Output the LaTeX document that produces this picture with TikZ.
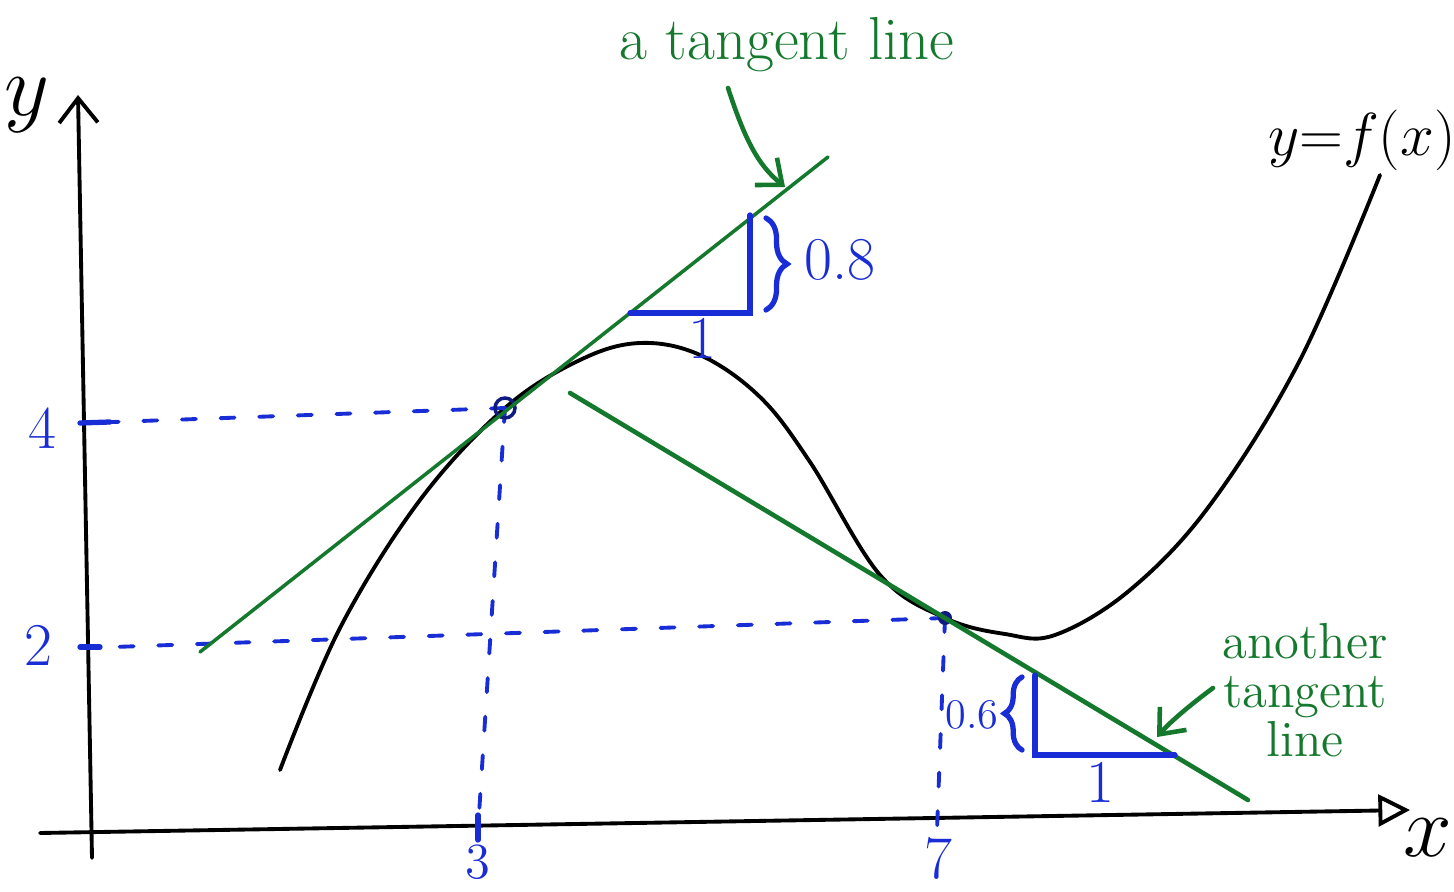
\documentclass[tikz,border=0pt]{standalone}
\usetikzlibrary{positioning,arrows.meta,decorations.pathreplacing}
\definecolor{penblue}{RGB}{25,45,215}
\definecolor{pengreen}{RGB}{20,120,45}
\begin{document}
\begin{tikzpicture}[x=0.1mm,y=-0.1mm,line cap=round,
  axis/.style={line width=1.1pt},
  tline/.style={pengreen,line width=1pt},
  guide/.style={penblue,line width=1.1pt,dash pattern=on 4pt off 7pt},
  tri/.style={penblue,line width=1.5pt},
  blbl/.style={penblue,font=\LARGE,inner sep=1pt},
  glbl/.style={pengreen,font=\LARGE,align=center}]
  \useasboundingbox (0,0) rectangle (1454,892);
  % axes
  \draw[axis,-{Straight Barb[length=7pt,width=11pt]}] (92,858) -- (78,95);
  \draw[axis,-{Triangle[open,length=9pt,width=9pt]}] (40,833) -- (1410,810);
  \node[font=\Huge] (ylab) at (27,105) {$y$};
  \node[font=\Huge] (xlab) at (1428,838) {$x$};
  % the curve
  \draw[line width=1.1pt] plot[smooth,tension=0.6] coordinates {
    (280,770) (340,628) (420,500) (505,408) (580,360) (640,343) (700,355)
    (760,397) (810,462) (880,575) (945,618) (1005,634) (1055,635)
    (1130,590) (1210,505) (1300,360) (1380,175)};
  \node[font=\LARGE,inner sep=1pt] (flab) at (1362,140) {$y{=}f(x)$};
  % tangent points
  \coordinate (P) at (505,408);
  \coordinate (Q) at (945,618);
  % guides to the axes
  \draw[penblue,line width=1.5pt] (80,423) -- (110,422);
  \draw[penblue,line width=1.5pt] (80,647) -- (100,647);
  \draw[penblue,line width=1.5pt] (478,815) -- (478,840);
  \draw[guide] (P) -- (85,423);
  \draw[guide] (P) -- (478,830);
  \draw[guide] (Q) -- (85,648);
  \draw[guide] (Q) -- (937,830);
  \node[blbl] (four) at (42,428) {4};
  \node[blbl] (two) at (38,645) {2};
  \node[blbl,font=\Large] (three) at (478,862) {3};
  \node[blbl] (seven) at (938,858) {7};
  \draw[penblue!60!black,line width=1pt] (P) circle (10);
  \fill[penblue!60!black] (Q) circle (7);
  % first tangent line
  \coordinate (T1a) at (200,652);
  \coordinate (T1b) at (828,157);
  \draw[tline] (T1a) -- (T1b);
  \draw[tri] (630,313) -- (750,313) -- (750,215);
  \draw[tri,decorate,decoration={brace,amplitude=6pt}] (766,218) -- (766,310);
  \node[blbl] (run1) at (702,338) {1};
  \node[blbl] (rise1) at (840,260) {0.8};
  \node[glbl] (tlab1) at (787,45) {a tangent line};
  \draw[tline,line width=1.3pt,-{Straight Barb[length=6pt,width=10pt]}] (728,88) .. controls (745,140) and (758,165) .. (785,187);
  % second tangent line
  \coordinate (T2a) at (570,393);
  \coordinate (T2b) at (1248,800);
  \draw[tline,line width=1.3pt] (T2a) -- (T2b);
  \draw[tri] (1035,675) -- (1035,755) -- (1175,755);
  \draw[tri,decorate,decoration={brace,amplitude=5pt}] (1022,750) -- (1022,677);
  \node[blbl] (run2) at (1100,782) {1};
  \node[blbl,font=\large] (rise2) at (972,715) {0.6};
  \node[glbl,font=\Large,text depth=0pt,inner sep=1pt] (tlab2) at (1305,690) {another\\[-4pt]tangent\\[-4pt]line};
  \draw[tline,line width=1.3pt,-{Straight Barb[length=6pt,width=10pt]}] (1213,688) .. controls (1190,705) and (1170,722) .. (1157,737);
\end{tikzpicture}
\end{document}
